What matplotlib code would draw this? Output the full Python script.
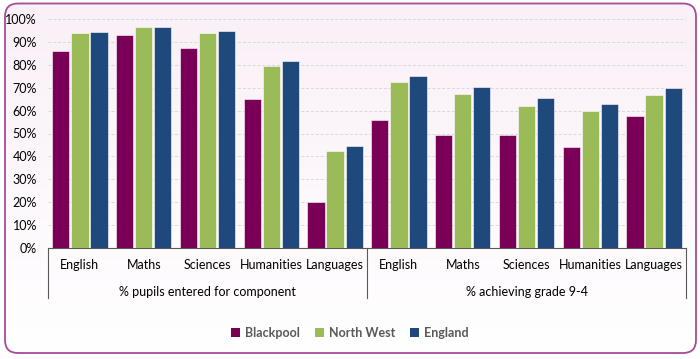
import matplotlib.pyplot as plt
import numpy as np
from matplotlib.patches import FancyBboxPatch, Patch
from matplotlib.colors import LinearSegmentedColormap
import matplotlib.ticker as mtick

plt.rcParams['font.family'] = ['Lato', 'DejaVu Sans']

# data
subjects = ["English", "Maths", "Sciences", "Humanities", "Languages"]
groups = ["% pupils entered for component", "% achieving grade 9-4"]
series = ["Blackpool", "North West", "England"]
blackpool = [86, 93, 87.5, 65, 20, 56, 49.5, 49.2, 44.3, 57.5]
north_west = [93.7, 96.6, 94, 79.3, 42.2, 72.5, 67.3, 62.2, 59.8, 66.7]
england = [94.4, 96.6, 94.8, 81.8, 44.6, 75, 70.3, 65.5, 62.7, 69.9]
colours = ["#7A0057", "#9BBB59", "#1F497D"]

fig = plt.figure(figsize=(7, 3.59), dpi=100)

# background: rounded frame with soft pink -> white gradient
bg = fig.add_axes([0, 0, 1, 1], zorder=-10)
bg.set_xlim(0, 7)
bg.set_ylim(0, 3.59)
bg.axis("off")
frame = FancyBboxPatch((0.05, 0.06), 6.91, 3.495,
                       boxstyle="round,pad=0,rounding_size=0.13",
                       facecolor="none", edgecolor="#A54B9C", linewidth=1.3)
bg.add_patch(frame)
grad_cmap = LinearSegmentedColormap.from_list("bgfade", ["#FFFFFF", "#FAF0F7"])
img = bg.imshow(np.linspace(0, 1, 100).reshape(-1, 1), cmap=grad_cmap,
                extent=[0.05, 6.96, 0.06, 3.555], origin="lower", aspect="auto")
img.set_clip_path(frame)

ax = fig.add_axes([48/700, 1-248/359, 638/700, 229/359])
ax.set_facecolor("none")

x = np.arange(len(blackpool))
offs = [-0.3, 0, 0.3]
for k, vals in enumerate([blackpool, north_west, england]):
    ax.bar(x + offs[k], np.array(vals)/100, width=0.27, color=colours[k],
           edgecolor="white", linewidth=0.4, zorder=3)

ax.set_xlim(-0.5, 9.5)
ax.set_ylim(0, 1)
ax.set_yticks(np.arange(0, 1.01, 0.1))
ax.yaxis.set_major_formatter(mtick.PercentFormatter(1.0, decimals=0))
ax.grid(axis="y", color="#D9D9D9", linestyle=(0, (3, 2)), linewidth=0.7, zorder=0)
for s in ["top", "right", "left"]:
    ax.spines[s].set_visible(False)
ax.spines["bottom"].set_color("#595959")
ax.tick_params(axis="y", length=0, labelsize=9, colors="#000000", pad=8)
ax.set_xticks(x)
ax.set_xticklabels(subjects * 2, fontsize=9)
ax.tick_params(axis="x", length=0, pad=8)

# group labels and separators
for g, name in enumerate(groups):
    ax.text(g*5 + 2, -0.19, name, ha="center", va="center", fontsize=9,
            transform=ax.get_xaxis_transform())
for xs in [-0.5, 4.5, 9.5]:
    ax.plot([xs, xs], [0, -0.22], color="#595959", linewidth=0.8,
            transform=ax.get_xaxis_transform(), clip_on=False)

handles = [Patch(facecolor=c) for c in colours]
fig.legend(handles, series, loc="center", bbox_to_anchor=(0.5, 1-333/359), ncol=3,
           frameon=False, handlelength=0.7, handleheight=0.7, columnspacing=1.2,
           handletextpad=0.4, prop={"size": 9, "weight": "bold"}, labelcolor="#595959")

fig.savefig("out.png", dpi=100)
